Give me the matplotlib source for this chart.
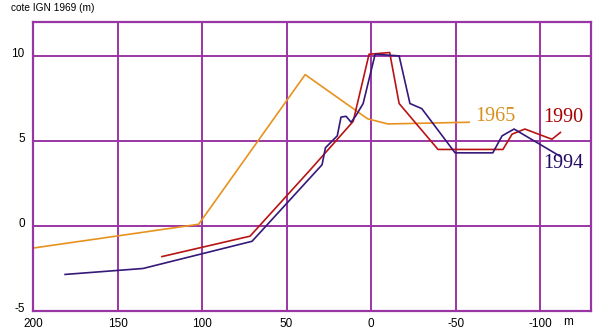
import matplotlib.pyplot as plt
import matplotlib.transforms as mtransforms

# profils (distance en m, cote en m)
x1965 = [200, 102, 39, 2, -10, -58]
y1965 = [-1.3, 0.1, 8.9, 6.3, 6.0, 6.1]

x1990 = [123.7, 71.6, 36, 10.6, 1.2, -11, -16.6, -39.6, -78, -83.4, -91, -107, -112]
y1990 = [-1.8, -0.6, 3.3, 6.15, 10.1, 10.2, 7.2, 4.5, 4.5, 5.4, 5.7, 5.1, 5.5]

x1994 = [181, 134.9, 70.4, 29, 27, 20, 17.8, 14.8, 11.8, 8.9, 4.7, -2.4, -16.6,
         -23, -30, -49.7, -72, -77.5, -84.6, -111.8]
y1994 = [-2.85, -2.5, -0.9, 3.6, 4.6, 5.3, 6.4, 6.45, 6.1, 6.5, 7.2, 10.1, 10.0,
         7.2, 6.9, 4.3, 4.3, 5.3, 5.7, 4.1]

xticks = [200, 150, 100, 50, 0, -50, -100]
yticks = [10, 5, 0, -5]

grid_col = '#9a36a4'

fig = plt.figure(figsize=(6.11, 3.30), dpi=100)
ax = fig.add_axes([0.054, 0.0576, 0.913, 0.876])

ax.plot(x1965, y1965, color='#e8921e', lw=1.2)
ax.plot(x1990, y1990, color='#b81414', lw=1.2)
ax.plot(x1994, y1994, color='#35187a', lw=1.2)

ax.text(-61.5, 6.45, '1965', color='#d8901c', fontsize=14.5,
        family='Liberation Serif', va='center')
ax.text(-102, 6.4, '1990', color='#a80000', fontsize=14.5,
        family='Liberation Serif', va='center')
ax.text(-101.8, 3.7, '1994', color='#220a66', fontsize=14.5,
        family='Liberation Serif', va='center')

ax.set_xlim(200, -130)
ax.set_ylim(-5, 12)
ax.set_xticks(xticks)
ax.set_yticks(yticks)
ax.set_xticklabels([str(v) for v in xticks], family='Liberation Sans', fontsize=8.5)
ax.set_yticklabels([str(v) for v in yticks], family='Liberation Sans', fontsize=8.5)
ax.tick_params(axis='x', length=0, pad=5)
ax.tick_params(axis='y', length=0, pad=6)
up = mtransforms.ScaledTranslation(0, 3 / 100, fig.dpi_scale_trans)
for lab in ax.get_yticklabels():
    lab.set_transform(lab.get_transform() + up)
ax.grid(True, color=grid_col, lw=1.4)
ax.set_axisbelow(True)
for s in ax.spines.values():
    s.set_color(grid_col)
    s.set_linewidth(1.6)

fig.text(0.018, 0.975, 'cote IGN 1969 (m)', family='Liberation Sans', fontsize=7.3,
         va='center', ha='left')
fig.text(0.93, 0.024, 'm', family='Liberation Sans', fontsize=8.5, va='center', ha='center')

fig.savefig('out.png', dpi=100)
